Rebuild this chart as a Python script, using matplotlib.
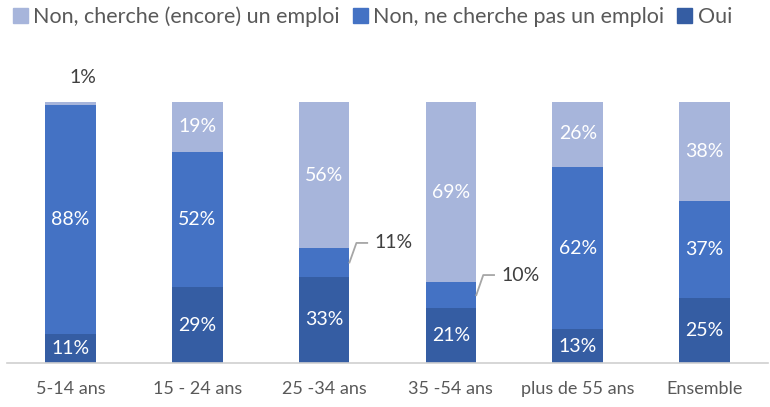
import matplotlib
matplotlib.use("Agg")
import matplotlib.pyplot as plt
from matplotlib.patches import Patch
import numpy as np

categories = ["5-14 ans", "15 - 24 ans", "25 -34 ans", "35 -54 ans", "plus de 55 ans", "Ensemble"]
oui = [11, 29, 33, 21, 13, 25]
ne_cherche_pas = [88, 52, 11, 10, 62, 37]
cherche = [1, 19, 56, 69, 26, 38]
series_names = ["Non, cherche (encore) un emploi", "Non, ne cherche pas un emploi", "Oui"]

c_light = "#A7B5DB"
c_mid = "#4472C4"
c_dark = "#355DA3"
gray = "#595959"

plt.rcParams['font.family'] = ['Lato', 'DejaVu Sans']

fig = plt.figure(figsize=(7.7, 4.07), dpi=100)
ax = fig.add_axes([7/770, 44/407, 761/770, 261/407])
x = np.arange(len(categories))
w = 0.4
ax.bar(x, oui, w, color=c_dark)
ax.bar(x, ne_cherche_pas, w, bottom=oui, color=c_mid)
bot3 = np.array(oui) + np.array(ne_cherche_pas)
ax.bar(x, cherche, w, bottom=bot3, color=c_light)

ax.set_xlim(-0.5, len(categories) - 0.5)
ax.set_ylim(0, 100)
for s in ["top", "right", "left"]:
    ax.spines[s].set_visible(False)
ax.spines["bottom"].set_color("#D0D0D0")
ax.spines["bottom"].set_linewidth(1.2)
ax.set_yticks([])
ax.set_xticks(x)
ax.set_xticklabels(categories, fontsize=13, color=gray)
ax.tick_params(axis="x", length=0, pad=13)

fs = 14
for i in range(len(categories)):
    ax.text(x[i], oui[i] / 2, f"{oui[i]}%", ha="center", va="center", color="white", fontsize=fs)
    if ne_cherche_pas[i] >= 15:
        ax.text(x[i], oui[i] + ne_cherche_pas[i] / 2, f"{ne_cherche_pas[i]}%", ha="center", va="center",
                color="white", fontsize=fs)
    if cherche[i] >= 5:
        ax.text(x[i], bot3[i] + cherche[i] / 2, f"{cherche[i]}%", ha="center", va="center",
                color="white", fontsize=fs)

ax.text(x[0] + 0.1, 109.5, f"{cherche[0]}%", ha="center", va="center", color="#404040", fontsize=fs, clip_on=False)

def callout(i, val, mid, ytxt):
    xr = x[i] + w / 2
    ax.plot([xr, xr + 0.055, xr + 0.14], [mid, ytxt, ytxt], color="#A6A6A6", lw=1.3, clip_on=False)
    ax.text(xr + 0.2, ytxt, f"{val}%", ha="left", va="center", color="#404040", fontsize=fs, clip_on=False)

callout(2, ne_cherche_pas[2], oui[2] + ne_cherche_pas[2] / 2, 46)
callout(3, ne_cherche_pas[3], oui[3] + ne_cherche_pas[3] / 2, 33.7)

handles = [Patch(color=c_light), Patch(color=c_mid), Patch(color=c_dark)]
fig.legend(handles, series_names, loc="upper left", bbox_to_anchor=(0.0, 1.015), ncol=3, frameon=False,
           fontsize=15.5, handlelength=0.7, handleheight=0.7, handletextpad=0.25, columnspacing=0.6,
           labelcolor=gray, borderaxespad=0.2)

fig.savefig("out.png", dpi=100)
